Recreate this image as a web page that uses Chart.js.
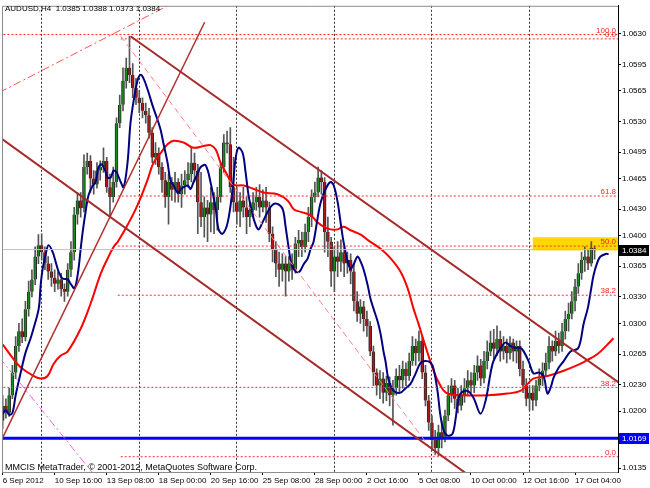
<!DOCTYPE html>
<html>
<head>
<meta charset="utf-8">
<script src="https://cdn.jsdelivr.net/npm/chart.js@4.4.1/dist/chart.umd.min.js"></script>
<style>
  html, body { margin:0; padding:0; background:#fff; }
  canvas { display:block; }
</style>
</head>
<body>
<canvas id="chart" width="650" height="488"></canvas>
<script>
/* prices kept in pips: 10384 = 1.0384 */
const symbolLine = 'AUDUSD,H4  1.0385 1.0388 1.0373 1.0384';
const copyrightLine = 'MMCIS MetaTrader, \u00A9 2001-2012, MetaQuotes Software Corp.';

const open = [
  10189,10206,10198,10218,10244,10274,10291,10284,10316,10336,
  10350,10376,10389,10381,10368,10359,10352,10345,10350,10339,
  10336,10361,10381,10424,10440,10431,10478,10485,10465,10458,
  10474,10478,10485,10455,10444,10461,10528,10549,10576,10591,
  10583,10568,10557,10551,10542,10537,10517,10489,10494,10478,
  10463,10444,10461,10452,10461,10447,10457,10463,10470,10483,
  10474,10438,10421,10432,10424,10438,10429,10444,10478,10506,
  10504,10455,10438,10427,10440,10432,10421,10429,10438,10444,
  10432,10440,10432,10402,10384,10368,10361,10368,10359,10368,
  10361,10391,10395,10387,10404,10421,10444,10449,10466,10461,
  10404,10393,10359,10376,10370,10381,10368,10372,10359,10325,
  10311,10319,10305,10297,10268,10244,10229,10237,10221,10232,
  10218,10226,10240,10235,10248,10240,10257,10274,10266,10280,
  10244,10212,10187,10167,10158,10176,10169,10195,10218,10229,
  10214,10206,10218,10226,10235,10229,10244,10252,10237,10257,
  10268,10278,10271,10282,10268,10274,10266,10278,10268,10274,
  10248,10229,10214,10221,10212,10229,10237,10246,10255,10274,
  10268,10280,10274,10291,10305,10311,10325,10342,10357,10372,
  10376,10368,10385
];
const high = [
  10218,10214,10226,10252,10285,10300,10305,10325,10348,10361,
  10387,10401,10402,10387,10376,10368,10361,10359,10357,10345,
  10368,10393,10432,10449,10449,10492,10494,10491,10474,10483,
  10485,10500,10489,10470,10478,10534,10560,10591,10602,10627,
  10596,10579,10565,10557,10551,10545,10523,10506,10500,10483,
  10472,10470,10466,10472,10465,10470,10474,10483,10500,10494,
  10481,10472,10444,10440,10455,10449,10455,10483,10515,10519,
  10523,10489,10455,10449,10455,10444,10438,10449,10455,10458,
  10452,10455,10438,10410,10393,10381,10379,10376,10376,10379,
  10398,10406,10404,10413,10432,10452,10461,10478,10474,10466,
  10421,10398,10387,10393,10395,10387,10381,10379,10368,10336,
  10327,10325,10314,10302,10274,10248,10246,10244,10240,10239,
  10235,10248,10252,10257,10255,10266,10285,10282,10291,10285,
  10252,10218,10195,10178,10184,10189,10201,10229,10237,10235,
  10226,10229,10237,10246,10244,10252,10263,10259,10268,10280,
  10291,10293,10297,10291,10285,10282,10285,10282,10280,10280,
  10257,10237,10229,10229,10235,10248,10255,10266,10285,10280,
  10291,10289,10300,10314,10323,10336,10350,10368,10381,10387,
  10384,10393,10388
];
const low = [
  10180,10192,10194,10214,10237,10268,10278,10280,10308,10330,
  10344,10368,10372,10361,10350,10342,10336,10339,10331,10325,
  10331,10353,10372,10413,10421,10427,10470,10449,10447,10454,
  10463,10472,10449,10421,10438,10455,10523,10542,10568,10574,
  10557,10549,10540,10534,10528,10511,10483,10481,10470,10449,
  10432,10413,10440,10438,10438,10432,10447,10455,10461,10461,
  10402,10410,10398,10393,10404,10402,10406,10438,10472,10494,
  10449,10427,10413,10410,10421,10402,10410,10421,10429,10421,
  10427,10415,10393,10370,10353,10342,10348,10331,10348,10350,
  10357,10376,10376,10381,10393,10410,10438,10444,10447,10381,
  10376,10342,10336,10353,10359,10353,10357,10345,10314,10302,
  10300,10291,10285,10263,10229,10218,10214,10209,10212,10206,
  10184,10218,10220,10226,10229,10235,10252,10252,10257,10237,
  10206,10178,10155,10150,10149,10158,10165,10189,10210,10203,
  10198,10201,10210,10218,10221,10221,10235,10229,10232,10248,
  10263,10259,10263,10257,10259,10255,10259,10257,10255,10240,
  10221,10206,10201,10201,10206,10223,10229,10240,10248,10257,
  10263,10266,10268,10282,10291,10305,10314,10334,10350,10359,
  10361,10365,10373
];
const close = [
  10206,10198,10218,10244,10274,10291,10284,10316,10336,10350,
  10376,10389,10381,10368,10359,10352,10345,10350,10339,10336,
  10361,10381,10424,10440,10431,10478,10485,10465,10458,10474,
  10478,10485,10455,10444,10461,10528,10549,10576,10591,10583,
  10568,10557,10551,10542,10537,10517,10489,10494,10478,10463,
  10444,10461,10452,10461,10447,10457,10463,10470,10483,10474,
  10438,10421,10432,10424,10438,10429,10444,10478,10506,10504,
  10455,10438,10427,10440,10432,10421,10429,10438,10444,10432,
  10440,10432,10402,10384,10368,10361,10368,10359,10368,10361,
  10391,10395,10387,10404,10421,10444,10449,10466,10461,10404,
  10393,10359,10376,10370,10381,10368,10372,10359,10325,10311,
  10319,10305,10297,10268,10244,10229,10237,10221,10232,10218,
  10226,10240,10235,10248,10240,10257,10274,10266,10280,10244,
  10212,10187,10167,10158,10176,10169,10195,10218,10229,10214,
  10206,10218,10226,10235,10229,10244,10252,10237,10257,10268,
  10278,10271,10282,10268,10274,10266,10278,10268,10274,10248,
  10229,10214,10221,10212,10229,10237,10246,10255,10274,10268,
  10280,10274,10291,10305,10311,10325,10342,10357,10372,10376,
  10368,10386,10384
];

// time axis: one label every 16 bars, week separators on Mondays
const dateLabels = ['6 Sep 2012','10 Sep 16:00','13 Sep 08:00','18 Sep 00:00','20 Sep 16:00','25 Sep 08:00',
                    '28 Sep 00:00','2 Oct 16:00','5 Oct 08:00','10 Oct 00:00','12 Oct 16:00','17 Oct 04:00'];
const labelStep = 16;
const weekStarts = [12, 42, 72, 102, 132, 162];
const priceTicks = [10630,10595,10565,10530,10495,10465,10430,10400,10365,10330,10300,10265,10230,10200,10165,10135];

// moving averages: [bar, pips]
const blueMa = [
  [0,10197],[1,10201],[2,10196],[3,10198],[4,10218],[5.5,10243],[7,10266],[8.6,10283],[9.5,10294],[11.1,10317],
  [11.7,10344],[12.3,10362],[13.2,10378],[14.1,10389],[15.4,10381],[16.3,10370],[17.2,10359],[18.4,10351],[20,10350],[20.9,10345],
  [22.1,10340],[23.1,10356],[24,10385],[24.6,10404],[25.5,10427],[26.4,10446],[27.7,10457],[28.6,10461],[29.5,10478],[30.4,10481],
  [31.4,10475],[32.3,10466],[33.2,10466],[34.1,10474],[35,10472],[36.3,10461],[37.2,10455],[38.4,10483],[39.3,10528],[40.3,10554],
  [41.5,10577],[42.4,10583],[43.3,10579],[44.6,10566],[46.1,10548],[47.6,10532],[48.6,10520],[49.5,10504],[50.7,10483],[51.6,10463],
  [52.6,10457],[53.8,10449],[54.7,10452],[55.6,10455],[56.9,10457],[57.8,10453],[58.7,10461],[59.9,10470],[60.9,10478],[62.4,10480],
  [63.9,10461],[65.5,10430],[66.4,10407],[67.6,10402],[69.2,10415],[70.7,10453],[71.6,10487],[72.5,10500],[73.8,10494],[74.7,10472],
  [75.6,10446],[76.9,10423],[77.8,10412],[78.7,10407],[79.9,10415],[81.5,10427],[83,10435],[84.5,10436],[86.1,10430],[87,10410],
  [87.9,10387],[88.8,10368],[90.1,10359],[91.3,10359],[92.5,10367],[93.8,10374],[94.7,10385],[95.6,10393],[96.8,10419],[97.8,10438],
  [99.3,10453],[100.8,10461],[101.8,10457],[103,10438],[103.9,10415],[104.8,10393],[106.1,10370],[107,10362],[107.9,10367],[109.1,10376],
  [110.1,10370],[111,10361],[112.2,10344],[113.1,10328],[114,10317],[115.3,10302],[116.2,10288],[117.1,10268],[117.7,10257],[118.7,10235],
  [120.2,10223],[122.3,10221],[123.9,10226],[125.4,10231],[127,10243],[128.5,10255],[130,10257],[131.6,10255],[132.5,10248],[133.7,10223],
  [134.6,10195],[135.6,10178],[136.8,10172],[138.3,10174],[139.3,10192],[139.9,10209],[140.8,10220],[142.9,10223],[144.8,10215],[146.9,10197],
  [148.5,10212],[150,10243],[150.9,10257],[153.1,10272],[154.6,10278],[156.2,10274],[157.7,10272],[159.2,10272],[160.2,10268],[161.7,10257],
  [163.2,10243],[164.8,10244],[166.3,10240],[167.5,10220],[168.5,10227],[169.4,10238],[170.9,10249],[172.5,10257],[174.6,10268],[176.8,10271],
  [177.7,10280],[178.6,10299],[179.9,10317],[180.8,10336],[181.7,10355],[182.9,10370],[183.8,10376],[185.4,10379],[186.3,10379]
];
const redMa = [
  [0,10276],[3.4,10259],[5.5,10250],[9.5,10240],[11.7,10237],[13.8,10240],[15.7,10254],[17.8,10263],[20,10268],[24,10294],
  [27,10322],[30.1,10356],[32.3,10374],[34.1,10387],[35.4,10393],[38.4,10412],[41.5,10435],[44.6,10464],[46.4,10483],[48.6,10494],
  [50.7,10504],[52.6,10508],[55.6,10506],[58.7,10500],[61.8,10502],[63.9,10503],[65.5,10498],[67,10483],[68.6,10472],[71,10458],
  [74.1,10457],[77.2,10453],[80.2,10449],[84.5,10447],[87.6,10440],[89.5,10430],[91.6,10427],[94.7,10423],[96.8,10415],[98.7,10410],
  [100.8,10407],[103,10407],[104.8,10410],[107,10406],[110.1,10401],[112.2,10395],[116.2,10385],[119.3,10374],[122.3,10359],[124.5,10340],
  [126.3,10317],[127.9,10299],[130,10274],[132.5,10246],[134.6,10229],[136.8,10220],[141.7,10218],[149.1,10218],[155.2,10220],[159.2,10223],
  [161.4,10231],[163.2,10237],[167.5,10240],[172.5,10246],[177.7,10254],[179.2,10257],[182.9,10265],[186,10276],[187.8,10283]
];

// drawn objects
const bidPrice = 10384;
const supportPrice = 10169;
const fibValues = [10629, 10624, 10445, 10388, 10332, 10227, 10148];
const fibStarts = [-1, 36.3, 35.4, 35.4, 35.4, -1, 36.3];
const fibTexts  = ['100.0', '0.0', '61.8', '50.0', '38.2', '38.2', '0.0'];
const zoneBars = [163, 195];
const zonePrices = [10383, 10398];
const channelTop = [[39.3, 10627], [195, 10218]];
const channelBottom = [[-1, 10512], [150, 10109]];
const risingLine = [[-1, 10162], [62.1, 10643]];
const dashDotTop = [[-1, 10563], [53, 10666]];
const dashFromHigh = [[36.3, 10627], [133.1, 10150]];
const dashDotLow = [[-1, 10261], [28, 10128]];

const fontFamily = '"Liberation Sans", Arial, sans-serif';
const bullColor = '#1a8a1a';
const bearColor = '#b01818';

const idx = close.map((_, i) => i);
const pipPrice = v => (v / 10000).toFixed(4);

const segment = (pts, color, width, dash, order) => ({
  type: 'line',
  data: pts.map(([x, y]) => ({ x, y })),
  borderColor: color, borderWidth: width, borderDash: dash,
  pointRadius: 0, fill: false, tension: 0, order
});

const overlays = {
  id: 'overlays',
  beforeDatasetsDraw(chart) {
    const { ctx, chartArea: a, scales: { x, y } } = chart;
    const left = x.getPixelForValue(zoneBars[0]);
    const right = Math.min(x.getPixelForValue(zoneBars[1]), a.right);
    const top = y.getPixelForValue(zonePrices[1]);
    const bottom = y.getPixelForValue(zonePrices[0]);
    ctx.save();
    ctx.fillStyle = '#ffd700';
    ctx.fillRect(left, top, right - left, bottom - top);
    ctx.restore();
  },
  afterDraw(chart) {
    const { ctx, chartArea: a, scales: { y } } = chart;
    ctx.save();
    // chart frame (left & top)
    ctx.strokeStyle = '#8c8c8c';
    ctx.lineWidth = 1;
    ctx.beginPath();
    ctx.moveTo(a.left + 0.5, a.bottom);
    ctx.lineTo(a.left + 0.5, a.top + 0.5);
    ctx.lineTo(a.right, a.top + 0.5);
    ctx.stroke();

    // fibo level captions
    ctx.font = `8px ${fontFamily}`;
    ctx.fillStyle = '#ff2020';
    ctx.textAlign = 'right';
    ctx.textBaseline = 'bottom';
    fibValues.forEach((v, i) => ctx.fillText(fibTexts[i], a.right - 2, y.getPixelForValue(v)));

    // symbol line and copyright
    ctx.fillStyle = '#000';
    ctx.textAlign = 'left';
    ctx.textBaseline = 'middle';
    ctx.font = `8px ${fontFamily}`;
    ctx.fillText(symbolLine, 5, 9);
    ctx.font = `9px ${fontFamily}`;
    ctx.fillText(copyrightLine, 5, 468);

    // price boxes on the axis
    ctx.font = `8px ${fontFamily}`;
    const box = (v, bg) => {
      const py = Math.round(y.getPixelForValue(v));
      ctx.fillStyle = bg;
      ctx.fillRect(a.right + 1, py - 5, 650 - a.right - 2, 11);
      ctx.fillStyle = '#fff';
      ctx.fillText(pipPrice(v), a.right + 4, py + 0.5);
    };
    box(supportPrice, '#0000ff');
    box(bidPrice, '#000000');
    ctx.restore();
  }
};

new Chart(document.getElementById('chart'), {
  type: 'bar',
  data: {
    datasets: [
      // candle wicks and bodies
      { data: idx.map(i => ({ x: i, y: [low[i], high[i]] })), backgroundColor: '#555', barThickness: 1,
        grouped: false, order: 10 },
      { data: idx.map(i => ({ x: i, y: [open[i], close[i]] })),
        backgroundColor: idx.map(i => close[i] >= open[i] ? bullColor : bearColor),
        borderColor: '#2a2a2a', borderWidth: { left: 1, right: 1, top: 0, bottom: 0 },
        barThickness: 3, minBarLength: 1, grouped: false, order: 9 },
      // moving averages
      { type: 'line', data: redMa.map(([x, y]) => ({ x, y })), borderColor: '#ff0000', borderWidth: 2,
        pointRadius: 0, fill: false, tension: 0.4, order: 8 },
      { type: 'line', data: blueMa.map(([x, y]) => ({ x, y })), borderColor: '#000080', borderWidth: 2,
        pointRadius: 0, fill: false, tension: 0.35, order: 7 },
      // fibonacci levels
      ...fibValues.map((v, i) => segment([[fibStarts[i], v], [195, v]], '#ff3030', 1, [2, 2], 6)),
      // bid and support lines
      segment([[-1, bidPrice], [195, bidPrice]], '#c0c0c0', 1, [], 5),
      segment([[-1, supportPrice], [195, supportPrice]], '#0000ff', 3, [], 4),
      // trend lines
      segment(channelTop, '#a52a2a', 2, [], 3),
      segment(channelBottom, '#a52a2a', 2, [], 3),
      segment(risingLine, '#b03030', 1.5, [], 3),
      segment(dashDotTop, '#ff5050', 1, [8, 3, 2, 3], 3),
      segment(dashFromHigh, '#ff8080', 1, [6, 4], 3),
      segment(dashDotLow, '#ee66ee', 1, [8, 3, 2, 3], 3)
    ]
  },
  options: {
    responsive: false,
    animation: false,
    devicePixelRatio: 1,
    events: [],
    layout: { padding: { left: 2, top: 2, right: 0, bottom: 0 } },
    plugins: { legend: { display: false }, tooltip: { enabled: false } },
    scales: {
      x: {
        type: 'linear', position: 'bottom', min: -0.2, max: 189.2, offset: false,
        afterBuildTicks: s => {
          const vals = dateLabels.map((_, i) => i * labelStep).concat(weekStarts).sort((a, b) => a - b);
          s.ticks = vals.map(v => ({ value: v }));
        },
        afterFit: s => { s.height = 16; },
        ticks: {
          autoSkip: false, maxRotation: 0, align: 'start', padding: 1, color: '#000',
          font: { family: fontFamily, size: 8 },
          callback: v => (v % labelStep === 0 ? dateLabels[v / labelStep] || '' : '')
        },
        grid: {
          offset: false,
          color: c => (c.tick && weekStarts.includes(c.tick.value)) ? '#333' : 'rgba(0,0,0,0)',
          tickColor: c => (c.tick && c.tick.value % labelStep === 0) ? '#000' : 'rgba(0,0,0,0)',
          tickLength: 3, lineWidth: 1
        },
        border: { display: true, color: '#8c8c8c', dash: [2, 2] }
      },
      y: {
        type: 'linear', position: 'right', min: 10130.6, max: 10661.7,
        afterBuildTicks: s => { s.ticks = priceTicks.map(v => ({ value: v })); },
        afterFit: s => { s.width = 32; },
        ticks: {
          color: '#000', padding: 1, font: { family: fontFamily, size: 8 },
          callback: v => pipPrice(v)
        },
        grid: { drawOnChartArea: false, drawTicks: true, tickLength: 3, tickColor: '#000' },
        border: { display: true, color: '#000' }
      }
    }
  },
  plugins: [overlays]
});
</script>
</body>
</html>
